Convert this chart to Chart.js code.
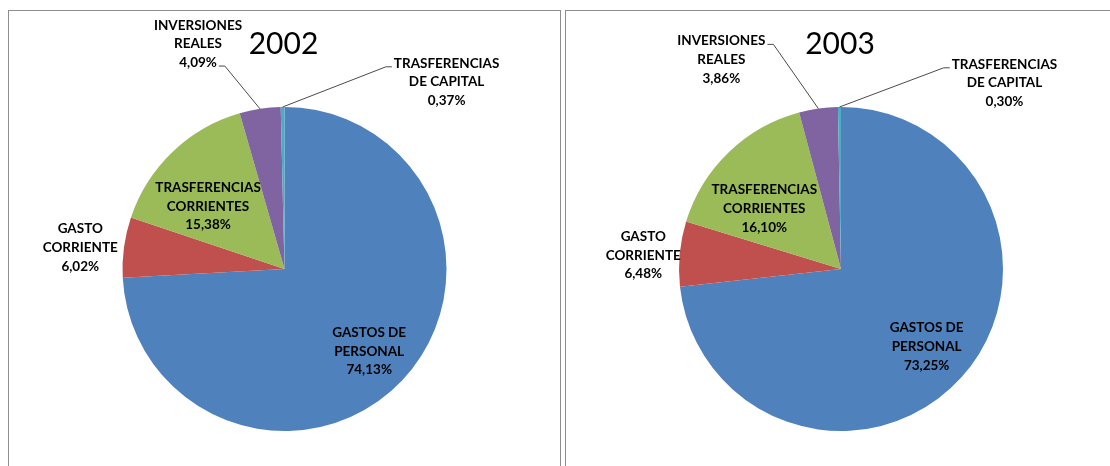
<!DOCTYPE html>
<html>
<head>
<meta charset="utf-8">
<script src="https://cdn.jsdelivr.net/npm/chart.js@4.4.1/dist/chart.umd.min.js"></script>
<style>
    body { margin: 0; background: #fff; overflow: hidden; width: 1110px; height: 466px; position: relative; }
    .caja { position: absolute; top: 10px; height: 470px; border: 1px solid #8e8e8e; background: #fff; }
    #caja2002 { left: 8px; width: 551px; }
    #caja2003 { left: 565px; width: 560px; }
    canvas { display: block; }
</style>
</head>
<body>
<div class="caja" id="caja2002"><canvas id="grafico2002" width="551" height="456"></canvas></div>
<div class="caja" id="caja2003"><canvas id="grafico2003" width="551" height="456"></canvas></div>
<script>
// datos
const anios = ['2002', '2003'];
const categorias = ['GASTOS DE PERSONAL', 'GASTO CORRIENTE', 'TRASFERENCIAS CORRIENTES', 'INVERSIONES REALES', 'TRASFERENCIAS DE CAPITAL'];
const lineasCategoria = [
    ['GASTOS DE', 'PERSONAL'],
    ['GASTO', 'CORRIENTE'],
    ['TRASFERENCIAS', 'CORRIENTES'],
    ['INVERSIONES', 'REALES'],
    ['TRASFERENCIAS', 'DE CAPITAL']
];
const valores2002 = [74.13, 6.02, 15.38, 4.09, 0.37];
const valores2003 = [73.25, 6.48, 16.10, 3.86, 0.30];

const colores = ['#4F81BD', '#C0504D', '#9BBB59', '#8064A2', '#4BACC6'];

// posicion de las etiquetas: k = distancia (x radio) sobre el angulo medio, dx/dy = ajuste
const posiciones2002 = [
    { k: 0.72, dx: 0, dy: 2 },
    { k: 1.26, dx: -2, dy: 6 },
    { k: 0.62, dx: -7, dy: 10 },
    { k: 1, dx: -62, dy: -65, guia: { linea: 2, lado: 'derecha' } },
    { k: 1, dx: 164, dy: -25, guia: { linea: 0, lado: 'izquierda' } }
];
const posiciones2003 = [
    { k: 0.71, dx: 0, dy: 1 },
    { k: 1.22, dx: -1, dy: 5 },
    { k: 0.62, dx: -7, dy: 12 },
    { k: 1, dx: -97, dy: -49, guia: { linea: 0, lado: 'derecha' } },
    { k: 1, dx: 165, dy: -24, guia: { linea: 0, lado: 'izquierda' } }
];

const fuenteEtiqueta = 'bold 13.5px Lato';
const altoLinea = 18.7;

const pluginEtiquetas = {
    id: 'etiquetas',
    afterDatasetsDraw(chart, args, opts) {
        const ctx = chart.ctx;
        const meta = chart.getDatasetMeta(0);
        const valores = chart.data.datasets[0].data;
        ctx.save();

        meta.data.forEach((arco, i) => {
            const p = arco.getProps(['x', 'y', 'startAngle', 'endAngle', 'outerRadius'], true);
            const medio = (p.startAngle + p.endAngle) / 2;
            const pos = opts.posiciones[i];
            const ax = p.x + Math.cos(medio) * p.outerRadius * pos.k;
            const ay = p.y + Math.sin(medio) * p.outerRadius * pos.k;
            const cx = ax + pos.dx;
            const cy = ay + pos.dy;

            const lineas = lineasCategoria[i].concat([valores[i].toFixed(2).replace('.', ',') + '%']);
            ctx.font = fuenteEtiqueta;
            ctx.fillStyle = '#000';
            ctx.textAlign = 'center';
            ctx.textBaseline = 'middle';
            lineas.forEach((t, j) => {
                ctx.fillText(t, cx, cy + (j - 1) * altoLinea);
            });

            if (pos.guia) {
                const t = lineas[pos.guia.linea];
                const w = ctx.measureText(t).width;
                const ly = cy + (pos.guia.linea - 1) * altoLinea + 3.5;
                let px, codo;
                if (pos.guia.lado == 'derecha') {
                    px = cx + w / 2 + 2;
                    codo = px + 6;
                } else {
                    px = cx - w / 2 - 2;
                    codo = px - 6;
                }
                const bx = p.x + Math.cos(medio) * p.outerRadius;
                const by = p.y + Math.sin(medio) * p.outerRadius;
                ctx.strokeStyle = '#4a4a4a';
                ctx.lineWidth = 1;
                ctx.beginPath();
                ctx.moveTo(px, ly);
                ctx.lineTo(codo, ly);
                ctx.lineTo(bx, by);
                ctx.stroke();
            }
        });

        // titulo sobre el centro del pastel
        const a0 = meta.data[0];
        ctx.font = '30px Lato';
        ctx.fillStyle = '#000';
        ctx.textAlign = 'center';
        ctx.textBaseline = 'middle';
        ctx.fillText(opts.titulo, a0.x - 1, a0.y - 225);
        ctx.restore();
    }
};

function graficoPastel(idCanvas, titulo, valores, posiciones, padding) {
    const ctx = document.getElementById(idCanvas);
    return new Chart(ctx, {
        type: 'pie',
        data: {
            labels: categorias,
            datasets: [{
                data: valores,
                backgroundColor: colores,
                borderWidth: 0
            }]
        },
        options: {
            responsive: false,
            animation: false,
            radius: 162,
            layout: { padding: padding },
            plugins: {
                legend: { display: false },
                tooltip: { enabled: false },
                title: { display: false },
                etiquetas: { titulo: titulo, posiciones: posiciones }
            }
        },
        plugins: [pluginEtiquetas]
    });
}

graficoPastel('grafico2002', anios[0], valores2002, posiciones2002, { left: 114, right: 114, top: 92, bottom: 32 });
graficoPastel('grafico2003', anios[1], valores2003, posiciones2003, { left: 113, right: 114, top: 92, bottom: 32 });
</script>
</body>
</html>
